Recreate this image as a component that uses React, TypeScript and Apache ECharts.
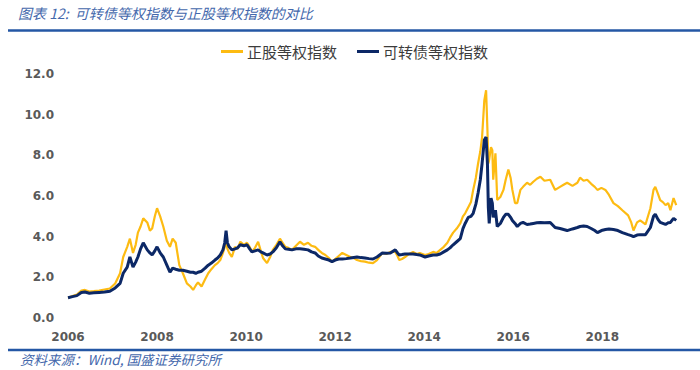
import React, { useEffect, useRef } from "react";
import * as echarts from "echarts";

const titleText = "图表 12:  可转债等权指数与正股等权指数的对比";
const sourceText = "资料来源：Wind, 国盛证券研究所";
const seriesNames = ["正股等权指数", "可转债等权指数"];
const yTicks = [0, 2, 4, 6, 8, 10, 12];

const dates = [
  2006.0, 2006.1, 2006.2, 2006.3, 2006.38, 2006.48, 2006.58, 2006.7, 2006.82, 2006.94,
  2007.06, 2007.17, 2007.24, 2007.33, 2007.39, 2007.46, 2007.52, 2007.57, 2007.63, 2007.69,
  2007.78, 2007.84, 2007.89, 2007.95, 2008.0, 2008.07, 2008.14, 2008.22, 2008.29, 2008.35,
  2008.42, 2008.5, 2008.58, 2008.67, 2008.75, 2008.81, 2008.87, 2008.92, 2009.0, 2009.08,
  2009.15, 2009.22, 2009.3, 2009.36, 2009.42, 2009.48, 2009.52, 2009.55, 2009.58, 2009.62,
  2009.68, 2009.75, 2009.81, 2009.87, 2009.95, 2010.02, 2010.08, 2010.13, 2010.2, 2010.27,
  2010.33, 2010.38, 2010.47, 2010.54, 2010.6, 2010.68, 2010.76, 2010.82, 2010.88, 2010.95,
  2011.03, 2011.12, 2011.21, 2011.3, 2011.39, 2011.47, 2011.55, 2011.62, 2011.7, 2011.78,
  2011.86, 2011.93, 2012.0, 2012.08, 2012.16, 2012.25, 2012.34, 2012.42, 2012.49, 2012.58,
  2012.67, 2012.76, 2012.85, 2012.94, 2013.06, 2013.15, 2013.24, 2013.35, 2013.4, 2013.44,
  2013.5, 2013.57, 2013.66, 2013.75, 2013.83, 2013.9, 2014.02, 2014.1, 2014.2, 2014.28,
  2014.36, 2014.44, 2014.52, 2014.58, 2014.65, 2014.73, 2014.81, 2014.87, 2014.92, 2014.99,
  2015.05, 2015.1, 2015.16, 2015.21, 2015.26, 2015.3, 2015.35, 2015.39, 2015.42, 2015.44,
  2015.46, 2015.5, 2015.53, 2015.55, 2015.6, 2015.64, 2015.71, 2015.78, 2015.83, 2015.89,
  2015.94, 2015.98, 2016.04, 2016.09, 2016.16, 2016.22, 2016.31, 2016.38, 2016.45, 2016.53,
  2016.61, 2016.7, 2016.83, 2016.94, 2017.05, 2017.13, 2017.21, 2017.33, 2017.44, 2017.5,
  2017.58, 2017.66, 2017.75, 2017.83, 2017.89, 2017.98, 2018.07, 2018.15, 2018.25, 2018.35,
  2018.45, 2018.58, 2018.65, 2018.7, 2018.78, 2018.85, 2018.97, 2019.08, 2019.15, 2019.19,
  2019.25, 2019.3, 2019.36, 2019.42, 2019.48, 2019.53, 2019.6, 2019.66,
];

const stockIndex = [
  1.0, 1.08, 1.15, 1.35, 1.38, 1.3, 1.32, 1.35, 1.4, 1.45,
  1.7, 2.2, 3.0, 3.5, 3.9, 3.2, 3.6, 4.2, 4.5, 4.9,
  4.7, 4.3, 4.4, 5.0, 5.4, 5.0, 4.5, 3.8, 3.5, 3.9,
  3.7, 2.6, 2.2, 1.7, 1.55, 1.38, 1.6, 1.75, 1.55, 1.9,
  2.2, 2.4, 2.6, 2.7, 2.85, 3.2, 3.5, 3.75, 3.4, 3.2,
  3.0, 3.5, 3.4, 3.75, 3.6, 3.7, 3.5, 3.25, 3.45, 3.75,
  3.3, 2.95, 2.7, 3.0, 3.35, 3.6, 3.9, 3.7, 3.5, 3.45,
  3.35, 3.55, 3.75, 3.6, 3.7, 3.55, 3.5, 3.35, 3.2, 3.1,
  2.95, 2.75, 2.9, 3.05, 3.2, 3.1, 3.0, 2.95, 2.85, 2.8,
  2.77, 2.72, 2.7, 2.85, 3.2, 3.15, 3.25, 3.25, 3.05, 2.85,
  2.9, 3.0, 3.15, 3.25, 3.15, 3.2, 3.1, 3.15, 3.25, 3.2,
  3.35, 3.5, 3.7, 3.95, 4.2, 4.4, 4.65, 5.0, 5.15, 5.45,
  5.7, 6.3, 6.9, 7.6, 8.2, 8.9, 10.7, 11.2, 9.25, 7.6,
  7.8, 8.4, 8.25, 6.8, 8.1, 5.8, 5.95, 6.3, 6.8, 7.3,
  6.9, 6.3, 5.65, 5.65, 6.3, 6.45, 6.65, 6.55, 6.7, 6.85,
  6.95, 6.75, 6.8, 6.3, 6.45, 6.55, 6.65, 6.5, 6.65, 6.9,
  6.75, 6.8, 6.6, 6.45, 6.3, 6.4, 6.3, 6.05, 5.65, 5.5,
  5.3, 5.05, 4.7, 4.3, 4.7, 4.8, 4.6, 5.4, 6.3, 6.45,
  6.1, 5.8, 5.7, 5.55, 5.65, 5.3, 5.9, 5.55,
];

const bondIndex = [
  1.0, 1.05, 1.1, 1.25, 1.28, 1.22, 1.24, 1.26, 1.28, 1.32,
  1.48, 1.7, 2.2, 2.5, 3.0, 2.5, 2.75, 3.0, 3.4, 3.7,
  3.35, 3.2, 3.1, 3.3, 3.5, 3.2, 3.0, 2.6, 2.25, 2.45,
  2.4, 2.35, 2.35, 2.3, 2.25, 2.25, 2.2, 2.25, 2.3, 2.45,
  2.6, 2.7, 2.85, 2.95, 3.1, 3.35, 3.7, 4.3, 3.7, 3.5,
  3.35, 3.4, 3.45, 3.6, 3.55, 3.6, 3.4, 3.25, 3.3, 3.35,
  3.25, 3.2, 3.1, 3.15, 3.25, 3.45, 3.75, 3.55, 3.4, 3.38,
  3.35, 3.4, 3.4, 3.38, 3.35, 3.25, 3.2, 3.05, 2.95, 2.9,
  2.85, 2.77, 2.85, 2.9, 2.9, 2.92, 2.95, 2.98, 3.0, 2.97,
  2.95, 2.92, 2.9, 3.0, 3.2, 3.18, 3.2, 3.35, 3.2, 3.1,
  3.12, 3.15, 3.15, 3.15, 3.12, 3.1, 3.0, 3.05, 3.1, 3.1,
  3.15, 3.25, 3.35, 3.45, 3.6, 3.75, 3.9, 4.4, 4.65, 4.95,
  5.0, 5.15, 5.6, 6.15, 6.8, 7.6, 8.75, 8.9, 7.6, 5.45,
  4.65, 5.9, 5.65, 4.95, 5.3, 4.5, 4.65, 4.95, 5.1, 5.1,
  4.95, 4.8, 4.65, 4.5, 4.65, 4.7, 4.6, 4.62, 4.65, 4.68,
  4.7, 4.68, 4.7, 4.45, 4.4, 4.35, 4.3, 4.38, 4.45, 4.5,
  4.52, 4.5, 4.4, 4.3, 4.2, 4.3, 4.35, 4.38, 4.35, 4.3,
  4.2, 4.1, 4.05, 4.0, 4.08, 4.1, 4.1, 4.45, 5.0, 5.1,
  4.85, 4.7, 4.65, 4.6, 4.68, 4.7, 4.9, 4.8,
];

const stockColor = "#FDBB12";
const bondColor = "#0C2866";
const ruleColor = "#2457A5";

export default function App() {
  const ref = useRef<HTMLDivElement>(null);

  useEffect(() => {
    if (!ref.current) return;
    const chart = echarts.init(ref.current, undefined, { renderer: "svg" });
    const stockData = dates.map((d, i) => [d, stockIndex[i]]);
    const bondData = dates.map((d, i) => [d, bondIndex[i]]);
    chart.setOption({
      animation: false,
      backgroundColor: "#ffffff",
      grid: { left: 68, right: 22, top: 74, bottom: 52 },
      legend: {
        left: 216,
        top: 39,
        itemWidth: 22,
        itemHeight: 3,
        itemGap: 20,
        icon: "rect",
        textStyle: {
          fontFamily: "Noto Sans CJK SC",
          fontSize: 15,
          color: "#3c3c3c",
          padding: [0, 0, 0, -1],
        },
        data: seriesNames,
      },
      xAxis: {
        type: "value",
        min: 2006,
        max: 2019.7,
        interval: 2,
        axisLine: { show: false },
        axisTick: { show: false },
        splitLine: { show: false },
        axisLabel: {
          showMaxLabel: false,
          margin: 13,
          fontFamily: "DejaVu Sans",
          fontWeight: "bold",
          fontSize: 12,
          color: "#595959",
          formatter: (v: number) => String(Math.round(v)),
        },
      },
      yAxis: {
        type: "value",
        min: yTicks[0],
        max: yTicks[yTicks.length - 1],
        interval: 2,
        axisLine: { show: false },
        axisTick: { show: false },
        splitLine: { show: false },
        axisLabel: {
          margin: 14,
          fontFamily: "DejaVu Sans",
          fontWeight: "bold",
          fontSize: 12,
          color: "#595959",
          formatter: (v: number) => v.toFixed(1),
        },
      },
      series: [
        {
          name: seriesNames[0],
          type: "line",
          data: stockData,
          showSymbol: false,
          symbol: "none",
          lineStyle: { color: stockColor, width: 2.2 },
          itemStyle: { color: stockColor },
        },
        {
          name: seriesNames[1],
          type: "line",
          data: bondData,
          showSymbol: false,
          symbol: "none",
          lineStyle: { color: bondColor, width: 3 },
          itemStyle: { color: bondColor },
        },
      ],
      graphic: [
        {
          type: "text",
          left: 18,
          top: 6,
          style: {
            text: titleText,
            fontFamily: "Noto Sans CJK SC",
            fontStyle: "italic",
            fontSize: 14,
            fill: "#4468AC",
          },
        },
        {
          type: "line",
          shape: { x1: 8, y1: 30.5, x2: 700, y2: 30.5 },
          style: { stroke: ruleColor, lineWidth: 2.5 },
        },
        {
          type: "line",
          shape: { x1: 8, y1: 350, x2: 700, y2: 350 },
          style: { stroke: ruleColor, lineWidth: 2.5 },
        },
        {
          type: "text",
          left: 20,
          top: 352,
          style: {
            text: sourceText,
            fontFamily: "Noto Sans CJK SC",
            fontStyle: "italic",
            fontSize: 13.5,
            fill: "#4468AC",
          },
        },
      ],
    });
    return () => chart.dispose();
  }, []);

  return (
    <div
      ref={ref}
      style={{ position: "fixed", left: 0, top: 0, width: 700, height: 370, background: "#fff" }}
    />
  );
}
